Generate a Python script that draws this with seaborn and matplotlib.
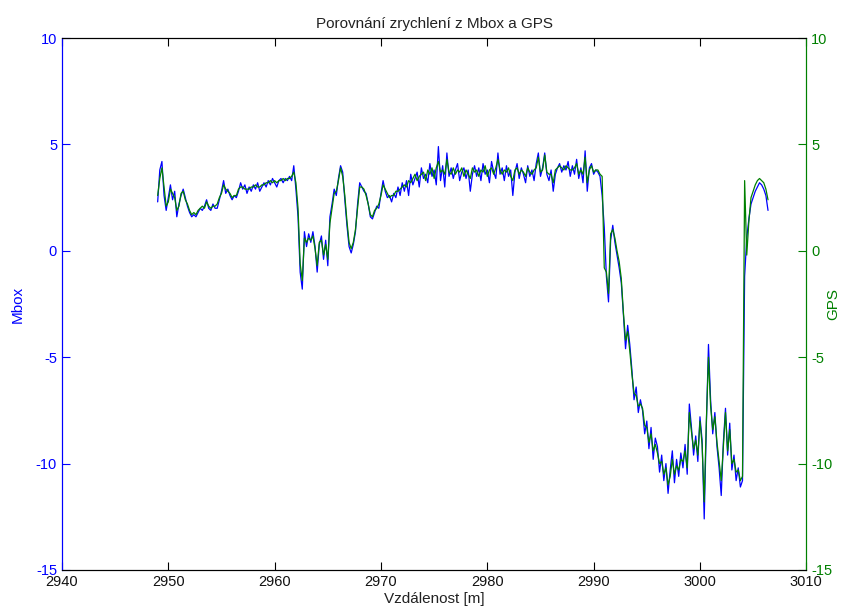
import numpy as np
import pandas as pd
import matplotlib
matplotlib.use("Agg")
import matplotlib.pyplot as plt
import seaborn as sns

# ---------------- data ----------------
TITLE = "Porovnání zrychlení z Mbox a GPS"
X_LABEL = "Vzdálenost [m]"
Y_LEFT_LABEL = "Mbox"
Y_RIGHT_LABEL = "GPS"

DIST_START = 2949.0     # first sample [m]
DIST_STEP = 0.2         # sampling step [m]

mbox = [
    2.3, 3.8, 4.2, 2.6, 1.9, 2.5, 3.1, 2.4, 2.8, 1.6,
    2.2, 2.6, 2.9, 2.5, 2.1, 1.8, 1.6, 1.7, 1.6, 1.8,
    2.0, 1.9, 2.1, 2.4, 2.0, 1.9, 2.2, 2.0, 2.0, 2.4,
    2.8, 3.3, 2.7, 2.9, 2.6, 2.4, 2.6, 2.5, 2.8, 3.2,
    2.9, 3.1, 2.7, 3.0, 2.8, 3.1, 2.9, 3.2, 2.8, 3.0,
    3.2, 3.0, 3.3, 3.1, 3.4, 3.2, 3.0, 3.3, 3.4, 3.2,
    3.4, 3.3, 3.5, 3.3, 4.0, 2.9, 1.6, -1.0, -1.8, 0.9,
    0.2, 0.8, 0.4, 0.9, 0.2, -1.0, 0.3, 0.7, -0.4, 0.5,
    -0.7, 1.6, 2.2, 2.9, 2.6, 3.4, 4.0, 3.7, 2.4, 1.2,
    0.2, -0.1, 0.3, 0.9, 2.2, 3.2, 3.0, 2.8, 2.7, 2.2,
    1.6, 1.5, 1.8, 2.1, 2.0, 2.7, 3.3, 2.8, 2.5, 2.6,
    2.3, 2.7, 2.5, 3.0, 2.6, 3.2, 2.8, 3.3, 2.6, 3.6,
    3.1, 3.4, 3.7, 3.0, 3.9, 3.4, 3.6, 3.2, 4.1, 3.5,
    3.8, 3.1, 4.9, 3.3, 4.0, 3.0, 4.6, 3.5, 3.9, 3.4,
    3.8, 4.1, 3.3, 3.7, 3.9, 3.4, 3.8, 2.8, 3.6, 4.0,
    3.5, 3.9, 3.3, 4.1, 3.6, 3.8, 3.2, 4.2, 3.7, 3.4,
    4.6, 3.6, 3.9, 3.3, 4.0, 3.5, 3.8, 2.6, 3.7, 4.1,
    3.4, 3.9, 3.6, 3.2, 4.0, 3.5, 3.8, 3.3, 4.1, 4.6,
    3.5, 3.9, 4.6, 3.6, 3.3, 3.8, 2.8, 3.6, 3.9, 4.1,
    3.7, 4.0, 3.8, 4.2, 3.5, 4.0, 3.6, 4.3, 3.4, 3.9,
    3.2, 4.7, 2.8, 3.9, 4.1, 3.6, 3.8, 3.7, 3.5, 2.6,
    1.1, -1.2, -2.4, 0.5, 1.2, 0.4, -0.2, -0.8, -1.5, -3.0,
    -4.6, -3.5, -4.4, -5.6, -7.0, -6.4, -7.6, -7.0, -7.5, -8.6,
    -8.0, -9.3, -8.3, -9.8, -8.8, -9.2, -10.4, -9.6, -10.8, -10.0,
    -11.4, -10.3, -9.4, -10.9, -9.8, -10.6, -9.5, -10.2, -9.1, -10.5,
    -7.2, -8.3, -9.6, -8.7, -9.9, -7.8, -8.9, -12.6, -8.2, -4.4,
    -7.0, -8.6, -7.6, -9.2, -10.2, -11.5, -9.0, -7.4, -9.6, -8.1,
    -10.3, -9.6, -10.8, -10.2, -11.1, -10.8, -1.2, 0.6, 1.5, 2.2,
    2.5, 2.8, 3.0, 3.2, 3.1, 2.9, 2.6, 1.9,
]

gps = [
    2.6, 3.4, 3.9, 3.0, 2.1, 2.3, 2.9, 2.7, 2.5, 1.9,
    2.1, 2.7, 2.8, 2.4, 2.2, 1.9, 1.7, 1.8, 1.7, 1.9,
    2.0, 2.1, 2.0, 2.3, 2.1, 2.0, 2.1, 2.1, 2.2, 2.5,
    2.7, 3.1, 2.9, 2.8, 2.7, 2.5, 2.6, 2.6, 2.9, 3.0,
    3.0, 2.9, 2.9, 2.9, 3.0, 3.0, 3.1, 3.0, 3.0, 3.1,
    3.1, 3.2, 3.2, 3.3, 3.2, 3.3, 3.2, 3.3, 3.3, 3.4,
    3.3, 3.4, 3.4, 3.5, 3.7, 3.2, 2.0, -0.6, -1.4, 0.6,
    0.4, 0.6, 0.5, 0.7, 0.1, -0.7, 0.4, 0.5, -0.2, 0.3,
    -0.4, 1.3, 2.0, 2.7, 2.8, 3.3, 3.9, 3.5, 2.6, 1.4,
    0.4, 0.1, 0.4, 1.0, 2.0, 3.0, 3.0, 2.9, 2.6, 2.2,
    1.7, 1.6, 1.9, 2.0, 2.2, 2.6, 3.1, 2.9, 2.7, 2.5,
    2.6, 2.6, 2.8, 2.8, 2.9, 3.0, 3.1, 3.0, 3.3, 3.2,
    3.4, 3.6, 3.3, 3.5, 3.6, 3.7, 3.3, 3.8, 3.6, 3.9,
    3.4, 3.9, 4.2, 3.7, 3.8, 3.6, 4.3, 3.7, 3.6, 3.9,
    3.6, 3.8, 3.7, 3.9, 3.5, 3.8, 3.6, 3.4, 3.9, 3.7,
    3.8, 3.5, 3.8, 3.7, 4.0, 3.5, 3.8, 3.9, 3.6, 3.9,
    4.3, 3.8, 3.6, 3.8, 3.7, 3.9, 3.5, 3.3, 3.8, 3.9,
    3.6, 3.8, 3.7, 3.5, 3.9, 3.7, 3.6, 3.8, 3.9, 4.4,
    3.7, 3.8, 4.5, 3.7, 3.6, 3.6, 3.2, 3.8, 3.9, 4.0,
    3.9, 3.8, 4.0, 3.9, 3.8, 3.8, 3.9, 4.1, 3.6, 3.8,
    3.6, 4.4, 3.2, 3.8, 4.0, 3.7, 3.8, 3.8, 3.6, 3.5,
    -0.8, -1.0, -2.0, 0.8, 1.0, 0.6, 0.0, -0.5, -1.3, -2.9,
    -4.2, -3.8, -4.7, -5.8, -6.7, -6.8, -7.3, -7.2, -7.4, -8.2,
    -8.3, -9.0, -8.6, -9.4, -9.1, -9.5, -10.0, -9.9, -10.5, -10.2,
    -11.0, -10.6, -9.8, -10.5, -10.1, -10.3, -9.8, -9.9, -9.4, -10.2,
    -7.6, -8.5, -9.3, -8.9, -9.6, -8.0, -9.1, -11.8, -8.0, -5.0,
    -7.3, -8.4, -7.8, -9.0, -9.9, -10.8, -9.2, -7.6, -9.4, -8.4,
    -10.0, -9.8, -10.4, -10.3, -10.8, -10.6, 3.3, -0.2, 1.4, 2.5,
    2.8, 3.1, 3.3, 3.4, 3.3, 3.2, 2.9, 2.4,
]

x_ticks = [2940, 2950, 2960, 2970, 2980, 2990, 3000, 3010]
y_ticks = [-15, -10, -5, 0, 5, 10]

# ---------------- figure ----------------
sns.set_style("white")
plt.rcParams["font.family"] = ["Liberation Sans", "DejaVu Sans"]
plt.rcParams["axes.unicode_minus"] = False

BLUE = "#0000ff"
GREEN = "#008000"

dist_m = DIST_START + DIST_STEP * np.arange(len(mbox))
dist_g = DIST_START + DIST_STEP * np.arange(len(gps))
df_m = pd.DataFrame({"dist": dist_m, "val": mbox})
df_g = pd.DataFrame({"dist": dist_g, "val": gps})

fig = plt.figure(figsize=(8.42, 6.10), dpi=100)
ax = fig.add_axes([0.0736, 0.0656, 0.884, 0.872])
ax2 = ax.twinx()

sns.lineplot(data=df_m, x="dist", y="val", ax=ax, color=BLUE, lw=0.9,
             estimator=None, sort=False)
sns.lineplot(data=df_g, x="dist", y="val", ax=ax2, color=GREEN, lw=0.9,
             estimator=None, sort=False)

for a in (ax, ax2):
    a.set_xlim(2940, 3010)
    a.set_ylim(-15, 10)
    a.set_yticks(y_ticks)
    a.grid(False)

ax.set_xticks(x_ticks)
ax.set_xticklabels([str(t) for t in x_ticks])

ax.set_xlabel(X_LABEL, fontsize=11, color="#222222", labelpad=2)
ax.set_ylabel(Y_LEFT_LABEL, fontsize=11, color=BLUE, va="center")
ax2.set_ylabel(Y_RIGHT_LABEL, fontsize=11, color=GREEN, va="center")
ax.yaxis.set_label_coords(-0.059, 0.5)
ax2.yaxis.set_label_coords(1.036, 0.5)
ax.set_title(TITLE, fontsize=11, color="#222222", pad=7)

# spines
for a in (ax, ax2):
    for s in a.spines.values():
        s.set_linewidth(0.8)
        s.set_visible(True)
    a.spines["top"].set_color("black")
    a.spines["bottom"].set_color("black")
    a.spines["left"].set_color(BLUE)
    a.spines["right"].set_color(GREEN)

ax.tick_params(axis="x", direction="in", length=6, width=0.8, colors="black",
               top=True, bottom=True, labelsize=10.5, pad=3.5)
ax.tick_params(axis="y", direction="in", length=6, width=0.8, colors=BLUE,
               left=True, right=False, labelsize=10.5, pad=3.5)
ax2.tick_params(axis="y", direction="in", length=6, width=0.8, colors=GREEN,
                left=False, right=True, labelsize=10.5, pad=3.5)
for lab in ax.get_xticklabels():
    lab.set_color("#111111")

fig.savefig("out.png", dpi=100, facecolor="white")
